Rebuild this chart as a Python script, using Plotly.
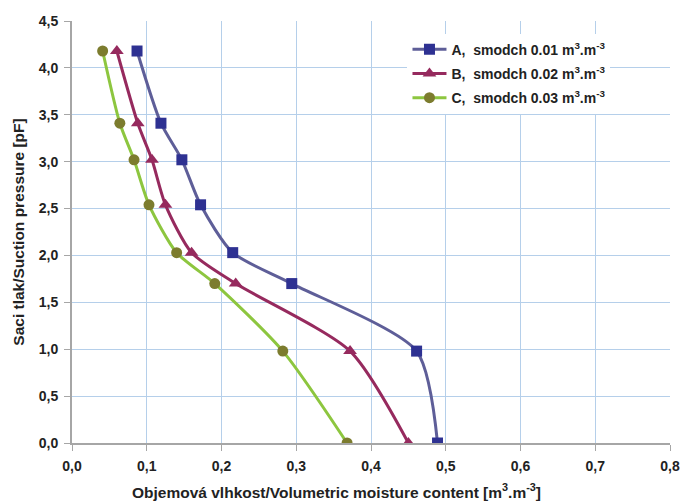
import plotly.graph_objects as go

# Suction pressure levels (pF) shared by all three curves
pf = [4.18, 3.41, 3.02, 2.54, 2.03, 1.70, 0.98, 0.0]

# Volumetric moisture content [m3.m-3] for each sample
theta_a = [0.087, 0.119, 0.147, 0.172, 0.215, 0.294, 0.461, 0.489]
theta_b = [0.060, 0.088, 0.107, 0.125, 0.160, 0.219, 0.372, 0.450]
theta_c = [0.041, 0.064, 0.083, 0.103, 0.140, 0.191, 0.282, 0.368]

names = [
    "A,\u00a0\u00a0smodch 0.01 m<sup>3</sup>.m<sup>-3</sup>",
    "B,\u00a0\u00a0smodch 0.02 m<sup>3</sup>.m<sup>-3</sup>",
    "C,\u00a0\u00a0smodch 0.03 m<sup>3</sup>.m<sup>-3</sup>",
]

x_ticks = [0.0, 0.1, 0.2, 0.3, 0.4, 0.5, 0.6, 0.7, 0.8]
y_ticks = [0.0, 0.5, 1.0, 1.5, 2.0, 2.5, 3.0, 3.5, 4.0, 4.5]

x_title = "Objemová vlhkost/Volumetric moisture content [m<sup>3</sup>.m<sup>-3</sup>]"
y_title = "Saci tlak/Suction pressure [pF]"

styles = [
    dict(line="#5E5E98", marker="#2E3192", symbol="square", size=11),
    dict(line="#962A5E", marker="#962A5E", symbol="triangle-up", size=12),
    dict(line="#8DC63F", marker="#7C7C2E", symbol="circle", size=11),
]

fig = go.Figure()
for i, (xs, name, st) in enumerate(zip([theta_a, theta_b, theta_c], names, styles)):
    fig.add_trace(go.Scatter(
        x=xs, y=pf, name=name, mode="lines+markers", legendgroup=str(i),
        line=dict(color=st["line"], width=3, shape="spline", smoothing=0.7),
        marker=dict(color=st["marker"], symbol=st["symbol"], size=st["size"]),
        hoverinfo="skip",
    ))

font_family = "Liberation Sans, Arial, sans-serif"
text_col = "#222222"
grid = "#B5CFEA"
axis_col = "#A6A6A6"
tick_font = dict(family=font_family, size=14, weight="bold", color=text_col)
title_font = dict(family=font_family, size=15.5, weight="bold", color=text_col)

fig.update_layout(
    width=682, height=504,
    margin=dict(l=72, r=12, t=21, b=61),
    paper_bgcolor="white", plot_bgcolor="white",
    separators=", ",
    font=dict(family=font_family, size=13, color=text_col),
    showlegend=True,
    legend=dict(
        x=0.561, y=0.97, xanchor="left", yanchor="top",
        bgcolor="white", borderwidth=0,
        font=dict(family=font_family, size=14, color=text_col, weight="bold"),
        itemwidth=34, tracegroupgap=3,
    ),
    annotations=[dict(
        text=x_title, font=title_font, showarrow=False,
        xref="paper", yref="paper", x=(336 - 72) / 598, y=-(503 - 443) / 422,
        xanchor="center", yanchor="bottom",
    )],
)

fig.update_xaxes(
    range=[0, 0.8], tickvals=x_ticks, tickformat=".1f", automargin=False,
    showgrid=True, gridcolor=grid, gridwidth=1,
    showline=True, linecolor=axis_col, linewidth=2,
    ticks="outside", ticklen=6, tickcolor=axis_col, ticklabelstandoff=3,
    zeroline=False, tickfont=tick_font,
)
fig.update_yaxes(
    range=[0, 4.5], tickvals=y_ticks, tickformat=".1f", automargin=False,
    showgrid=True, gridcolor=grid, gridwidth=1,
    showline=True, linecolor=axis_col, linewidth=2,
    ticks="outside", ticklen=6, tickcolor=axis_col, ticklabelstandoff=3,
    zeroline=False, tickfont=tick_font,
    title=dict(text=y_title, font=title_font, standoff=10),
)

fig.write_html("out.html")
